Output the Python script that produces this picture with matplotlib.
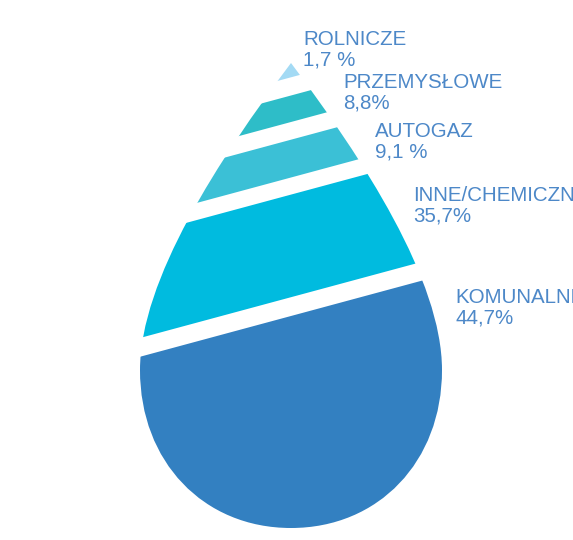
import matplotlib
matplotlib.use("Agg")
import matplotlib.pyplot as plt
from matplotlib.path import Path
from matplotlib.patches import PathPatch, Polygon

# ---- data ----
categories = ["ROLNICZE", "PRZEMYSŁOWE", "AUTOGAZ", "INNE/CHEMICZNE", "KOMUNALNE"]
value_labels = ["1,7 %", "8,8%", "9,1 %", "35,7%", "44,7%"]
values = [1.7, 8.8, 9.1, 35.7, 44.7]
colors = ["#a3daf4", "#2ebdc8", "#3bc0d6", "#00bbdf", "#3380c1"]

# ---- layout (pixel-like coordinates, y downward) ----
W, H = 573, 540
cx = 291
slope = -0.27
# band top / bottom intercepts on the drop axis
band_top = [0, 95.5, 139.7, 194.6, 316.0]
band_bot = [77.3, 122.0, 177.5, 297.2, 600]
label_xy = [(303, 45), (343, 88), (375, 137), (413, 201), (455, 303)]
text_color = "#4d88c8"

fig = plt.figure(figsize=(W / 100, H / 100), dpi=100)
ax = fig.add_axes([0, 0, 1, 1])
ax.set_xlim(0, W)
ax.set_ylim(H, 0)
ax.axis("off")

# drop outline
tip = (cx, 63)
ry, rx = 158, 151
yc = 370
k = 0.58
verts = [
    tip,
    (363, 159), (cx + rx, 280), (cx + rx, yc),
    (cx + rx, yc + k * ry), (cx + k * rx, yc + ry), (cx, yc + ry),
    (cx - k * rx, yc + ry), (cx - rx, yc + k * ry), (cx - rx, yc),
    (cx - rx, 280), (2 * cx - 363, 159), tip,
    tip,
]
codes = [Path.MOVETO] + [Path.CURVE4] * 12 + [Path.CLOSEPOLY]
drop = Path(verts, codes)
drop_patch = PathPatch(drop, facecolor="none", edgecolor="none")
ax.add_patch(drop_patch)


def line_y(c, x):
    return c + slope * (x - cx)


for i, cat in enumerate(categories):
    t, b = band_top[i], band_bot[i]
    poly = Polygon([(0, line_y(t, 0)), (W, line_y(t, W)),
                    (W, line_y(b, W)), (0, line_y(b, 0))],
                   closed=True, facecolor=colors[i], edgecolor="none")
    ax.add_patch(poly)
    poly.set_clip_path(drop_patch)
    x, y = label_xy[i]
    ax.text(x, y, cat, color=text_color, fontsize=14.8,
            family="Liberation Sans", va="baseline", ha="left")
    ax.text(x, y + 20.5, value_labels[i], color=text_color, fontsize=14.8,
            family="Liberation Sans", va="baseline", ha="left")

fig.savefig("out.png", dpi=100)
